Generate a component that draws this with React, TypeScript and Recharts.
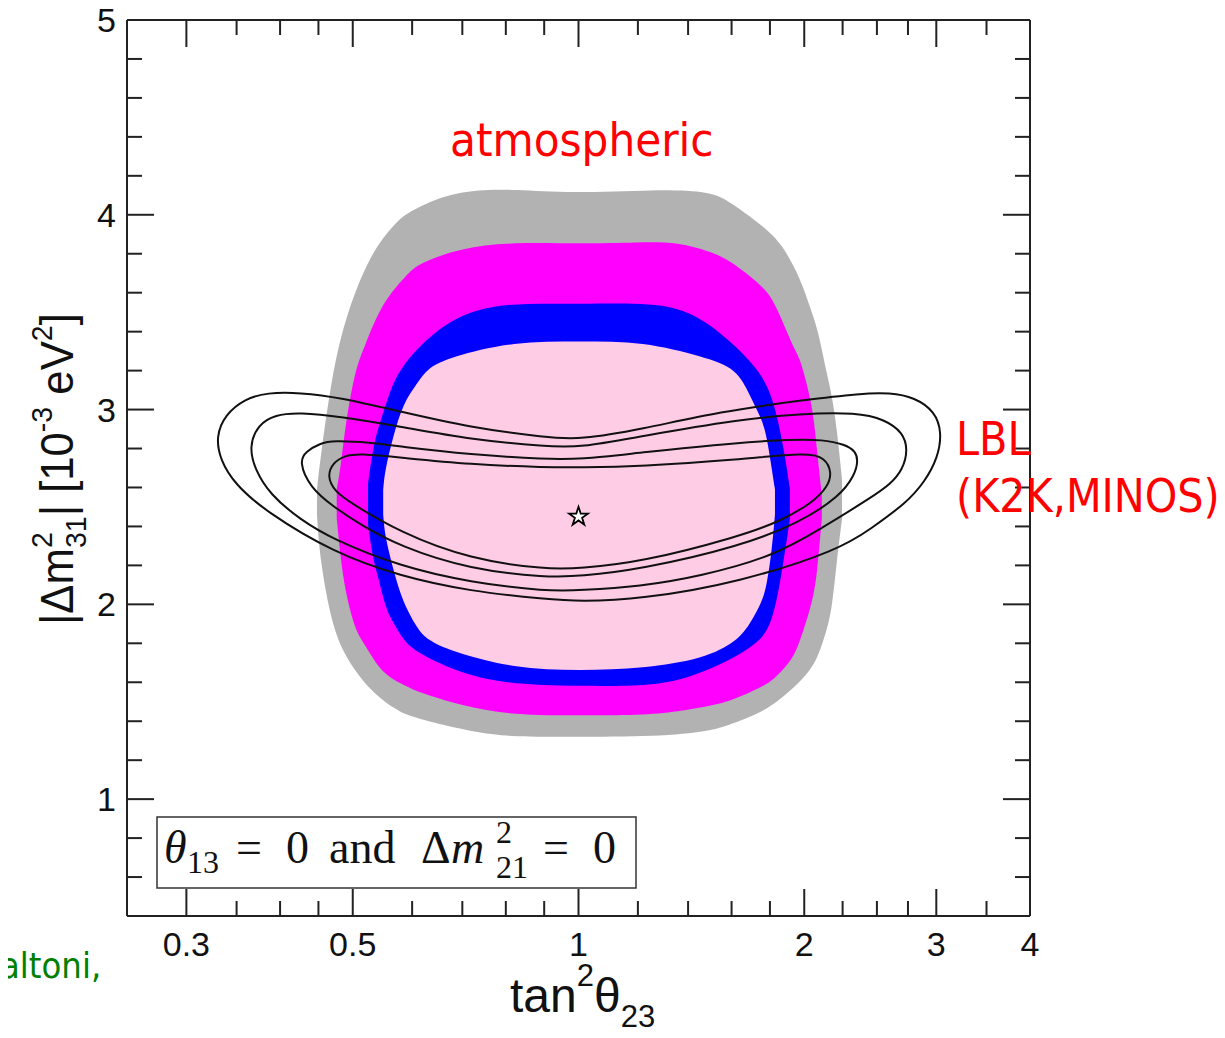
import React from 'react';
import { ComposedChart, Area, Line, Scatter, XAxis, YAxis, ZAxis } from 'recharts';

// tick values
const xTicks = [0.3, 0.35, 0.4, 0.45, 0.5, 0.6, 0.7, 0.8, 0.9, 1, 1.2, 1.4, 1.6, 1.8, 2, 2.25, 2.5, 2.75, 3, 3.5, 4];
const xMajor = [0.3, 0.5, 1, 2, 3, 4];
const yTicks = [0.6, 0.8, 1, 1.2, 1.4, 1.6, 1.8, 2, 2.2, 2.4, 2.6, 2.8, 3, 3.2, 3.4, 3.6, 3.8, 4, 4.2, 4.4, 4.6, 4.8, 5];
const yMajor = [1, 2, 3, 4, 5];

// atmospheric allowed regions: [tan^2 theta23, low dm2, high dm2]
const atmGray = [
  [0.448, 2.46, 2.59], [0.452, 2.23, 2.73], [0.469, 1.89, 3.18], [0.49, 1.72, 3.49],
  [0.529, 1.55, 3.81], [0.571, 1.46, 3.96], [0.59, 1.43, 4.01], [0.66, 1.38, 4.1],
  [0.737, 1.34, 4.13], [0.82, 1.32, 4.13], [0.977, 1.32, 4.11], [1.272, 1.32, 4.13],
  [1.501, 1.35, 4.12], [1.587, 1.38, 4.07], [1.767, 1.45, 3.94], [1.868, 1.52, 3.85],
  [1.973, 1.6, 3.68], [2.042, 1.67, 3.51], [2.086, 1.73, 3.41], [2.144, 1.87, 3.18],
  [2.178, 1.98, 3.07], [2.211, 2.23, 2.9], [2.246, 2.44, 2.64],
];
const atmMagenta = [
  [0.476, 2.44, 2.59], [0.482, 2.23, 2.71], [0.488, 2.08, 2.9], [0.503, 1.87, 3.2],
  [0.518, 1.8, 3.32], [0.547, 1.64, 3.55], [0.59, 1.58, 3.69], [0.611, 1.55, 3.75],
  [0.697, 1.48, 3.83], [0.82, 1.43, 3.86], [1.005, 1.43, 3.85], [1.204, 1.43, 3.86],
  [1.361, 1.45, 3.86], [1.501, 1.48, 3.81], [1.587, 1.5, 3.77], [1.767, 1.58, 3.63],
  [1.828, 1.62, 3.55], [1.932, 1.72, 3.32], [1.973, 1.81, 3.27], [2.035, 1.97, 3.07],
  [2.06, 2.06, 2.95], [2.079, 2.15, 2.8], [2.111, 2.44, 2.56],
];
const atmBlue = [
  [0.524, 2.41, 2.62], [0.532, 2.23, 2.8], [0.54, 2.15, 2.9], [0.554, 1.97, 3.03],
  [0.566, 1.91, 3.14], [0.585, 1.81, 3.23], [0.611, 1.75, 3.32], [0.682, 1.66, 3.48],
  [0.795, 1.59, 3.55], [1.005, 1.58, 3.54], [1.261, 1.58, 3.55], [1.421, 1.63, 3.5],
  [1.587, 1.71, 3.36], [1.735, 1.8, 3.21], [1.817, 1.9, 3.07], [1.879, 2.23, 2.8],
  [1.914, 2.44, 2.59],
];
const atmPink = [
  [0.549, 2.46, 2.59], [0.552, 2.35, 2.69], [0.566, 2.18, 2.86], [0.583, 2.01, 3.03],
  [0.611, 1.87, 3.14], [0.628, 1.82, 3.21], [0.674, 1.76, 3.27], [0.82, 1.67, 3.35],
  [1.005, 1.66, 3.35], [1.219, 1.67, 3.35], [1.47, 1.72, 3.27], [1.627, 1.81, 3.21],
  [1.693, 1.9, 3.07], [1.756, 2.01, 2.95], [1.783, 2.1, 2.86], [1.811, 2.28, 2.69],
  [1.828, 2.46, 2.59],
];

// LBL contours, closed loops: [tan^2 theta23, dm2]
const lblA = [
  [0.3286, 2.862], [0.3378, 2.974], [0.3592, 3.056], [0.3843, 3.087], [0.4252, 3.087],
  [0.4808, 3.062], [0.578, 2.99], [0.7166, 2.908], [0.9077, 2.856], [1.0045, 2.846],
  [1.2076, 2.897], [1.5438, 2.99], [2.0166, 3.051], [2.3729, 3.082], [2.6018, 3.087],
  [2.8092, 3.062], [2.9872, 2.99], [3.052, 2.882], [3.0148, 2.754], [2.8968, 2.631],
  [2.7412, 2.523], [2.4469, 2.385], [2.2316, 2.282], [1.6416, 2.113], [1.2076, 2.026],
  [1.0045, 2.015], [0.9077, 2.026], [0.7166, 2.067], [0.578, 2.144], [0.4706, 2.267],
  [0.3843, 2.472], [0.3483, 2.615], [0.3326, 2.744],
];
const lblB = [
  [0.3636, 2.81], [0.3738, 2.923], [0.3938, 2.974], [0.4252, 2.985], [0.4808, 2.964],
  [0.578, 2.913], [0.7166, 2.846], [0.9077, 2.81], [1.0045, 2.805], [1.2076, 2.862],
  [1.6416, 2.949], [1.9737, 2.979], [2.3511, 2.985], [2.5622, 2.949], [2.7077, 2.882],
  [2.7496, 2.795], [2.7077, 2.692], [2.6018, 2.615], [2.4695, 2.554], [2.0987, 2.385],
  [1.8167, 2.246], [1.4521, 2.144], [1.2076, 2.092], [1.0045, 2.072], [0.9077, 2.067],
  [0.7166, 2.113], [0.578, 2.195], [0.4706, 2.333], [0.4252, 2.436], [0.3878, 2.564],
  [0.3703, 2.692],
];
const lblC = [
  [0.4239, 2.733], [0.4331, 2.785], [0.4522, 2.826], [0.4706, 2.841], [0.5272, 2.831],
  [0.578, 2.81], [0.7166, 2.769], [0.9077, 2.744], [1.0045, 2.744], [1.2076, 2.779],
  [1.6416, 2.831], [1.914, 2.846], [2.1181, 2.846], [2.2661, 2.821], [2.3439, 2.785],
  [2.3584, 2.733], [2.3367, 2.667], [2.2316, 2.554], [1.9737, 2.421], [1.6416, 2.297],
  [1.2076, 2.179], [1.0045, 2.144], [0.9077, 2.138], [0.7166, 2.179], [0.578, 2.297],
  [0.5112, 2.41], [0.4706, 2.503], [0.4385, 2.6],
];
const lblD = [
  [0.462, 2.656], [0.4706, 2.728], [0.4882, 2.764], [0.5112, 2.774], [0.578, 2.754],
  [0.7166, 2.718], [0.9077, 2.703], [1.0045, 2.703], [1.2076, 2.708], [1.6416, 2.744],
  [2.0166, 2.779], [2.1311, 2.754], [2.1774, 2.677], [2.1509, 2.605], [2.0541, 2.523],
  [1.8561, 2.426], [1.6416, 2.349], [1.2076, 2.215], [1.0045, 2.185], [0.9077, 2.179],
  [0.7166, 2.231], [0.578, 2.369], [0.4958, 2.523], [0.4735, 2.579],
];

const bestFit = [{ x: 1.0, y: 2.45 }];

const toRange = (rows: number[][]) => rows.map(([x, lo, hi]) => ({ x, r: [lo, hi] }));
const toPts = (rows: number[][]) => rows.map(([x, y]) => ({ x, y }));

const AXIS = '#222';
const SANS = "'Liberation Sans', Arial, sans-serif";
const SLIDE = "'DejaVu Sans Condensed', 'DejaVu Sans', sans-serif";

const BottomTick = (p: any) => {
  const major = xMajor.includes(p.payload.value);
  return (
    <g>
      <line x1={p.x} x2={p.x} y1={p.y} y2={p.y - (major ? 27 : 15)} stroke={AXIS} strokeWidth={2} />
      {major && (
        <text x={p.x} y={p.y + 40} textAnchor="middle" fontSize={34} fontFamily={SANS} fill="#111">
          {p.payload.value}
        </text>
      )}
    </g>
  );
};
const TopTick = (p: any) => {
  const major = xMajor.includes(p.payload.value);
  return <line x1={p.x} x2={p.x} y1={p.y} y2={p.y + (major ? 27 : 15)} stroke={AXIS} strokeWidth={2} />;
};
const LeftTick = (p: any) => {
  const major = yMajor.includes(p.payload.value);
  return (
    <g>
      <line x1={p.x} x2={p.x + (major ? 27 : 15)} y1={p.y} y2={p.y} stroke={AXIS} strokeWidth={2} />
      {major && (
        <text x={p.x - 11} y={p.y + 12} textAnchor="end" fontSize={34} fontFamily={SANS} fill="#111">
          {p.payload.value}
        </text>
      )}
    </g>
  );
};
const RightTick = (p: any) => {
  const major = yMajor.includes(p.payload.value);
  return <line x1={p.x} x2={p.x - (major ? 27 : 15)} y1={p.y} y2={p.y} stroke={AXIS} strokeWidth={2} />;
};

export default function App() {
  const xProps = {
    dataKey: 'x',
    type: 'number' as const,
    scale: 'log' as const,
    domain: [0.25, 4],
    allowDataOverflow: true,
    ticks: xTicks,
    interval: 0 as const,
    tickLine: false,
    tickSize: 0,
    tickMargin: 0,
    axisLine: { stroke: AXIS, strokeWidth: 2 },
  };
  const yProps = {
    type: 'number' as const,
    domain: [0.4, 5],
    allowDataOverflow: true,
    ticks: yTicks,
    interval: 0 as const,
    tickLine: false,
    tickSize: 0,
    tickMargin: 0,
    axisLine: { stroke: AXIS, strokeWidth: 2 },
  };
  const loops = [lblA, lblB, lblC, lblD];

  return (
    <div style={{ position: 'relative', marginLeft: -8, marginTop: -8, width: 1225, height: 1030 }}>
      <ComposedChart width={1225} height={1030} margin={{ top: 10, right: 185, bottom: 14, left: 67 }}>
        <XAxis xAxisId="b" orientation="bottom" height={100} tick={BottomTick} {...xProps} />
        <XAxis xAxisId="t" orientation="top" height={10} tick={TopTick} {...xProps} />
        <YAxis yAxisId="l" orientation="left" width={60} tick={LeftTick} {...yProps} />
        <YAxis yAxisId="r" orientation="right" width={10} tick={RightTick} {...yProps} />
        <ZAxis range={[110, 110]} />
        <Area xAxisId="b" yAxisId="l" data={toRange(atmGray)} dataKey="r" type="basis" fill="#b2b2b2" fillOpacity={1} stroke="none" isAnimationActive={false} />
        <Area xAxisId="b" yAxisId="l" data={toRange(atmMagenta)} dataKey="r" type="basis" fill="#ff00ff" fillOpacity={1} stroke="none" isAnimationActive={false} />
        <Area xAxisId="b" yAxisId="l" data={toRange(atmBlue)} dataKey="r" type="basis" fill="#0000ff" fillOpacity={1} stroke="none" isAnimationActive={false} />
        <Area xAxisId="b" yAxisId="l" data={toRange(atmPink)} dataKey="r" type="basis" fill="#ffcce6" fillOpacity={1} stroke="none" isAnimationActive={false} />
        {loops.map((l, i) => (
          <Line key={i} xAxisId="b" yAxisId="l" data={toPts(l)} dataKey="y" type="basisClosed" stroke="#111" strokeWidth={2} dot={false} activeDot={false} isAnimationActive={false} />
        ))}
        <Scatter xAxisId="b" yAxisId="l" data={bestFit} dataKey="y" shape="star" fill="#fff" stroke="#000" strokeWidth={1.8} isAnimationActive={false} />
      </ComposedChart>

      <svg width={1225} height={1038} style={{ position: 'absolute', left: 0, top: 0, pointerEvents: 'none' }}>
        <text x={450} y={156} fontFamily={SLIDE} fontSize={47} fill="#ff0000">atmospheric</text>
        <text x={956} y={455} fontFamily={SLIDE} fontSize={46} fill="#ff0000">LBL</text>
        <text x={956} y={512} fontFamily={SLIDE} fontSize={46} fill="#ff0000">(K2K,MINOS)</text>
        <text x={0} y={978} fontFamily={SLIDE} fontSize={36} fill="#008000">altoni,</text>

        <rect x={157} y={817} width={479} height={71} fill="#fff" stroke="#333" strokeWidth={1.5} />
        <text y={863} fontFamily="'Liberation Serif', serif" fontSize={46} fill="#111">
          <tspan x={164} fontStyle="italic">θ</tspan>
          <tspan x={187} y={873} fontSize={32}>13</tspan>
          <tspan x={236} y={863}>=</tspan>
          <tspan x={286}>0</tspan>
          <tspan x={329}>and</tspan>
          <tspan x={421}>Δ</tspan>
          <tspan x={451} fontStyle="italic">m</tspan>
          <tspan x={496} y={843} fontSize={32}>2</tspan>
          <tspan x={496} y={878} fontSize={32}>21</tspan>
          <tspan x={543} y={863}>=</tspan>
          <tspan x={593}>0</tspan>
        </text>

        <text x={510} y={1012} fontFamily={SANS} fontSize={48} fill="#111">
          tan<tspan dy={-26} fontSize={31}>2</tspan>
          <tspan dy={26}>θ</tspan>
          <tspan dy={15} fontSize={31}>23</tspan>
        </text>

        <text transform="translate(73,625) rotate(-90) scale(0.95,1)" fontFamily={SANS} fontSize={46} fill="#111">
          |Δm<tspan dy={-21} fontSize={30}>2</tspan>
          <tspan dx={-16.7} dy={34} fontSize={30}>31</tspan>
          <tspan dy={-13}>| [10</tspan>
          <tspan dy={-21} fontSize={30}>-3</tspan>
          <tspan dy={21}>{' eV'}</tspan>
          <tspan dy={-21} fontSize={30}>2</tspan>
          <tspan dy={21}>]</tspan>
        </text>
      </svg>
    </div>
  );
}
